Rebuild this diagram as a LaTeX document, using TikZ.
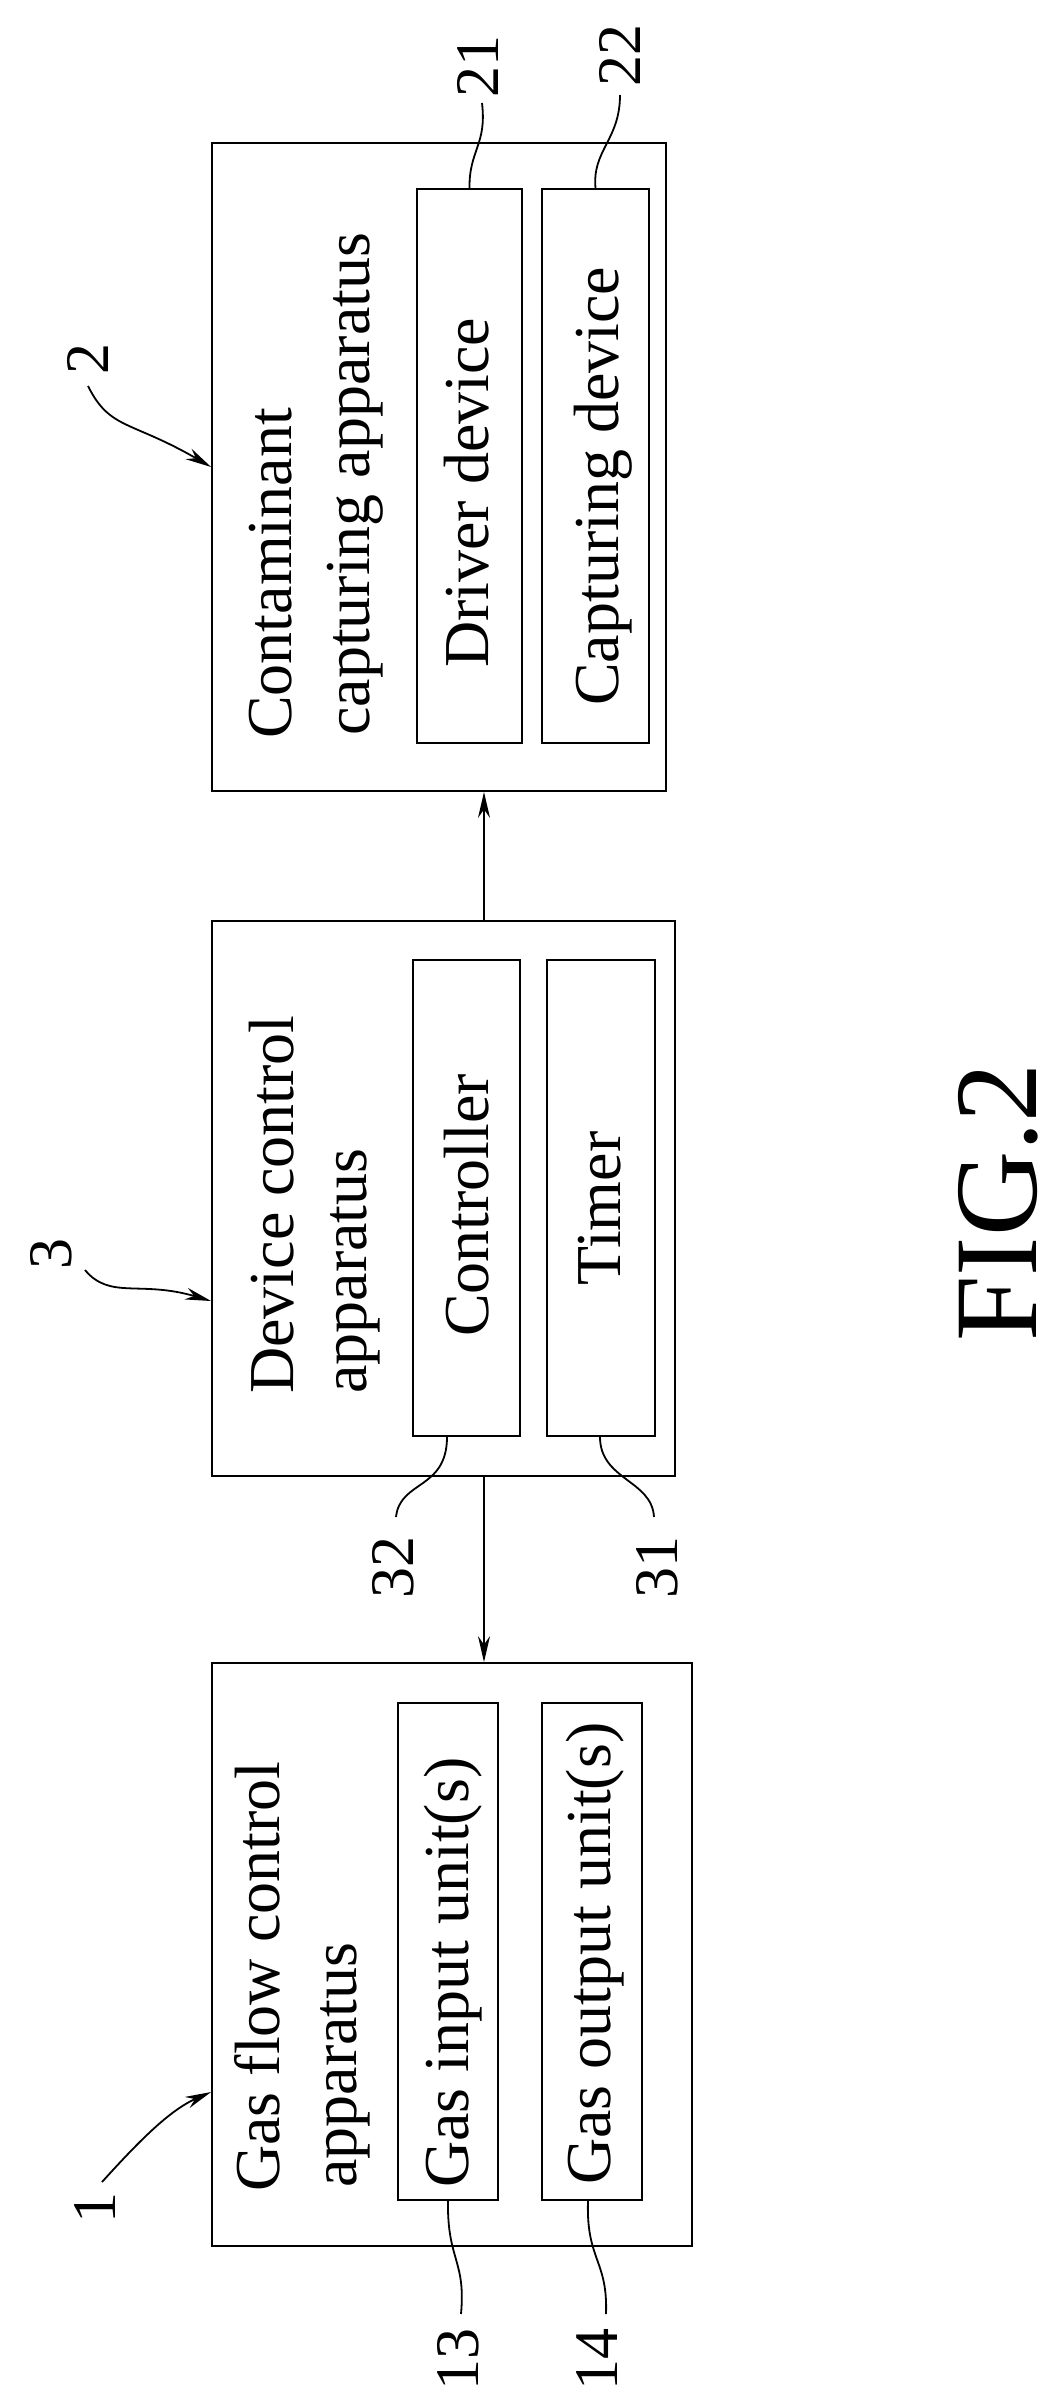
\documentclass[tikz,border=0pt]{standalone}
\usepackage{fontspec}
\setmainfont{Liberation Serif}
\usetikzlibrary{arrows.meta}
\begin{document}
\begin{tikzpicture}[x=1pt,y=1pt,
  box/.style={draw,line width=1.8pt,inner sep=0,rectangle},
  txt/.style={rotate=90,anchor=base west,inner sep=0,font=\fontsize{64}{70}\selectfont},
  num/.style={rotate=90,anchor=base west,inner sep=0,font=\fontsize{62}{70}\selectfont},
  lead/.style={line width=1.8pt},
  arr/.style={line width=1.8pt,-{Stealth[length=26pt,width=12pt]}}]
\useasboundingbox (0,0) rectangle (1057,-2405);
% boxes
\node[box,minimum width=454,minimum height=648] (b2) at (439,-467) {};
\node[box,minimum width=105,minimum height=554] (b21) at (469.5,-466) {};
\node[box,minimum width=107,minimum height=554] (b22) at (595.5,-466) {};
\node[box,minimum width=463,minimum height=555] (b3) at (443.5,-1198.5) {};
\node[box,minimum width=107,minimum height=476] (b32) at (466.5,-1198) {};
\node[box,minimum width=108,minimum height=476] (b31) at (601,-1198) {};
\node[box,minimum width=480,minimum height=583] (b1) at (452,-1954.5) {};
\node[box,minimum width=100,minimum height=497] (b13) at (448,-1951.5) {};
\node[box,minimum width=100,minimum height=497] (b14) at (592,-1951.5) {};
% texts
\node[txt] (t2a) at (291,-739) {Contaminant};
\node[txt] (t2b) at (369,-736) {capturing apparatus};
\node[txt] (t21) at (488,-668) {Driver device};
\node[txt] (t22) at (618,-706) {Capturing device};
\node[txt] (t3a) at (293,-1394) {Device control};
\node[txt] (t3b) at (366,-1394) {apparatus};
\node[txt] (t32) at (488,-1337) {Controller};
\node[txt] (t31) at (620,-1286) {Timer};
\node[txt] (t1a) at (279,-2192) {Gas flow control};
\node[txt] (t1b) at (356,-2188) {apparatus};
\node[txt] (t13) at (468,-2188) {Gas input unit(s)};
\node[txt] (t14) at (610,-2185) {Gas output unit(s)};
\node[rotate=90,anchor=base west,inner sep=0,font=\fontsize{118}{120}\selectfont] (fig) at (1036,-1342) {FIG.2};
% numbers
\node[num] (n21) at (498,-98) {21};
\node[num] (n22) at (640,-87) {22};
\node[num] (n2) at (108,-375) {2};
\node[num] (n3) at (71,-1270) {3};
\node[num] (n32) at (413,-1599) {32};
\node[num] (n31) at (677,-1599) {31};
\node[num] (n1) at (115,-2224) {1};
\node[num] (n13) at (478,-2391) {13};
\node[num] (n14) at (617,-2391) {14};
% leader ends
\coordinate (e21) at (482,-103);
\coordinate (e22) at (620,-95);
\coordinate (e32) at (396,-1517);
\coordinate (e31) at (654,-1517);
\coordinate (e13) at (461,-2314);
\coordinate (e14) at (606,-2314);
\coordinate (s2) at (88,-386);
\coordinate (s3) at (85,-1270);
\coordinate (s1) at (102,-2182);
\coordinate (ax) at (484,0);
% leaders
\draw[lead] (b21.north) .. controls (469,-150) and (487,-145) .. (e21);
\draw[lead] (b22.north) .. controls (592,-150) and (620,-140) .. (e22);
\draw[lead] ([xshift=-19.5pt]b32.south) .. controls (447,-1490) and (400,-1480) .. (e32);
\draw[lead] ([xshift=-1pt]b31.south) .. controls (600,-1480) and (652,-1480) .. (e31);
\draw[lead] (b13.south) .. controls (447,-2260) and (466,-2260) .. (e13);
\draw[lead] ([xshift=-4pt]b14.south) .. controls (586,-2260) and (608,-2260) .. (e14);
% pointer arrows
\draw[arr] (s2) .. controls (110,-430) and (130,-420) .. (b2.west |- 0,-467);
\draw[arr] (s3) .. controls (110,-1300) and (140,-1280) .. (b3.west |- 0,-1301);
\draw[arr] (s1) .. controls (140,-2140) and (170,-2110) .. (b1.west |- 0,-2092);
% connectors
\draw[arr] (b3.north -| ax) -- (b2.south -| ax);
\draw[arr] (b3.south -| ax) -- (b1.north -| ax);
\end{tikzpicture}
\end{document}
